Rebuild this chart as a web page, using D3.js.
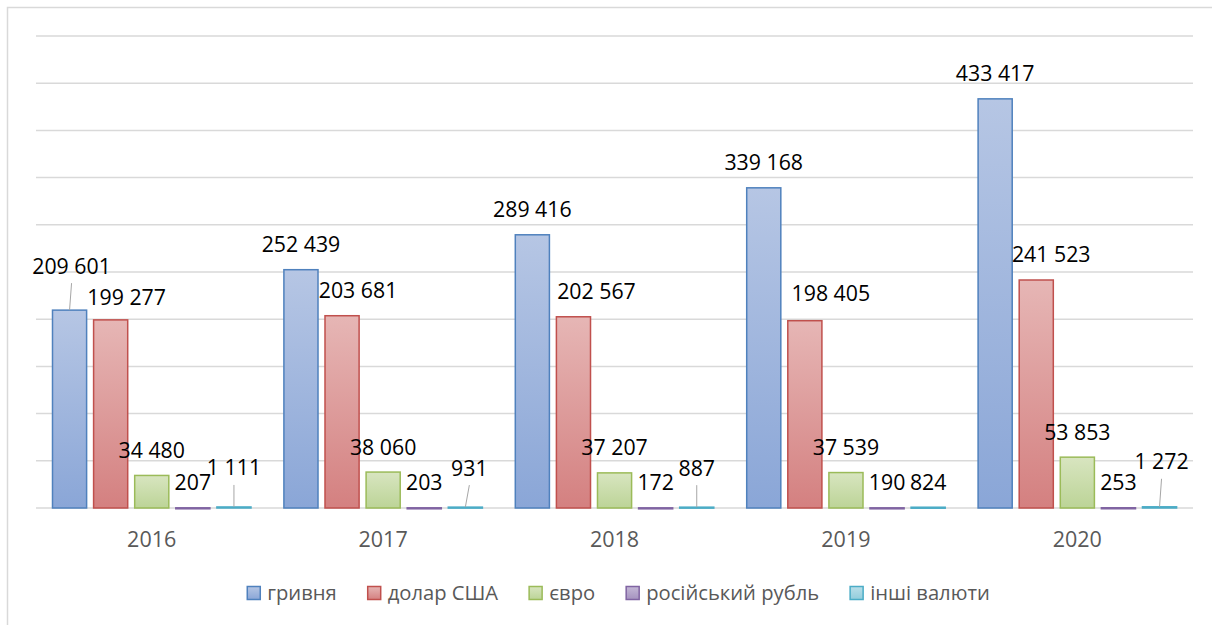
<!DOCTYPE html>
<html>
<head>
<meta charset="utf-8">
<script src="https://cdn.jsdelivr.net/npm/d3@7"></script>
<style>
  body { margin: 0; background: #fff; }
  svg { display: block; font-family: "Open Sans", "DejaVu Sans", sans-serif; }
</style>
</head>
<body>
<div id="graphic"></div>
<script>
// chart data
const years = ["2016", "2017", "2018", "2019", "2020"];
const seriesNames = ["гривня", "долар США", "євро", "російський рубль", "інші валюти"];
const hryvnia = [209601, 252439, 289416, 339168, 433417];
const usd = [199277, 203681, 202567, 198405, 241523];
const eur = [34480, 38060, 37207, 37539, 53853];
const rub = [207, 203, 172, 190, 253];
const other = [1111, 931, 887, 824, 1272];
const yTicks = [0, 50000, 100000, 150000, 200000, 250000, 300000, 350000, 400000, 450000, 500000];

// colours: stroke, gradient top, gradient bottom
const colors = [
    ["#4f81bd", "#b6c6e4", "#8aa6d7"],
    ["#c0504d", "#e6b6b5", "#d48080"],
    ["#9bbb59", "#d8e5c0", "#bcd497"],
    ["#8064a2", "#c4b8d6", "#a592bf"],
    ["#4bacc6", "#badfe9", "#92cddc"]
];

// labels that were dragged away from their default spot: [dx, dy, leader line]
const labelNudge = {
    "0|2016": [2, -19, true],
    "1|2016": [16, 3, false],
    "1|2017": [16, 0, false],
    "1|2018": [23, 0, false],
    "1|2019": [26, -2, false],
    "1|2020": [15, 0, false],
    "4|2016": [0, -14, true],
    "4|2017": [4, -14, true],
    "4|2018": [0, -14, true],
    "4|2020": [2, -20, true]
};

const allValues = [hryvnia, usd, eur, rub, other];
const data = years.map((yr, i) => ({
    year: yr,
    values: seriesNames.map((s, j) => ({ series: j, year: yr, value: allValues[j][i] }))
}));

const width = 1212, height = 625;
const plot = { left: 36, right: 1193, top: 36, bottom: 508 };

const svg = d3.select("#graphic")
    .append("svg")
    .attr("width", width)
    .attr("height", height);

// gradients
const defs = svg.append("defs");
colors.forEach((c, i) => {
    const g = defs.append("linearGradient")
        .attr("id", "grad" + i)
        .attr("x1", 0).attr("y1", 0).attr("x2", 0).attr("y2", 1);
    g.append("stop").attr("offset", "0%").attr("stop-color", c[1]);
    g.append("stop").attr("offset", "100%").attr("stop-color", c[2]);
});

// chart frame
svg.append("rect")
    .attr("x", 7.5).attr("y", 7.5)
    .attr("width", 1220).attr("height", 640)
    .attr("fill", "#fff")
    .attr("stroke", "#d9d9d9")
    .attr("stroke-width", 1.5);

const x0 = d3.scaleBand()
    .domain(years)
    .range([plot.left, plot.right])
    .padding(0);

const x1 = d3.scaleBand()
    .domain(d3.range(seriesNames.length))
    .range([16.5, 215])
    .paddingInner(0.17);

const y = d3.scaleLinear()
    .domain([0, 500000])
    .range([plot.bottom, plot.top]);

// gridlines
svg.append("g")
    .selectAll("line")
    .data(yTicks)
    .join("line")
    .attr("x1", plot.left)
    .attr("x2", plot.right)
    .attr("y1", d => y(d))
    .attr("y2", d => y(d))
    .attr("stroke", "#d9d9d9")
    .attr("stroke-width", 1.5);

// bars
const groups = svg.append("g")
    .selectAll("g")
    .data(data)
    .join("g")
    .attr("transform", d => "translate(" + x0(d.year) + ",0)");

groups.selectAll("rect")
    .data(d => d.values)
    .join("rect")
    .attr("x", d => x1(d.series))
    .attr("y", d => y(d.value))
    .attr("width", x1.bandwidth())
    .attr("height", d => Math.max(1, y(0) - y(d.value)))
    .attr("fill", d => "url(#grad" + d.series + ")")
    .attr("stroke", d => colors[d.series][0])
    .attr("stroke-width", 1.5);

// data labels
const fmt = v => d3.format(",")(v).replace(/,/g, " ");
const labels = svg.append("g");
data.forEach(d => {
    d.values.forEach(v => {
        const cx = x0(d.year) + x1(v.series) + x1.bandwidth() / 2;
        const top = y(v.value);
        const nudge = labelNudge[v.series + "|" + v.year] || [0, 0, false];
        const lx = cx + nudge[0];
        const ly = top - 25 + nudge[1];
        if (nudge[2]) {
            labels.append("line")
                .attr("x1", lx).attr("y1", ly + 17)
                .attr("x2", cx).attr("y2", top)
                .attr("stroke", "#a6a6a6")
                .attr("stroke-width", 1);
        }
        labels.append("text")
            .attr("x", lx)
            .attr("y", ly)
            .attr("dy", "0.35em")
            .attr("text-anchor", "middle")
            .attr("font-size", 21.3)
            .attr("fill", "#000")
            .text(fmt(v.value));
    });
});

// x axis
const xAxis = svg.append("g")
    .attr("transform", "translate(0," + plot.bottom + ")")
    .call(d3.axisBottom(x0).tickSize(0).tickPadding(24));
xAxis.select(".domain").remove();
xAxis.selectAll("text")
    .attr("font-family", "\"Open Sans\", sans-serif")
    .attr("font-size", 21.5)
    .attr("fill", "#595959");

// legend
const legend = svg.append("g").attr("transform", "translate(0,593)");
const items = legend.selectAll("g")
    .data(seriesNames)
    .join("g");
items.append("rect")
    .attr("x", 0).attr("y", -6.5)
    .attr("width", 13).attr("height", 13)
    .attr("fill", (d, i) => "url(#grad" + i + ")")
    .attr("stroke", (d, i) => colors[i][0])
    .attr("stroke-width", 1.5);
items.append("text")
    .attr("x", 20)
    .attr("dy", "0.35em")
    .attr("font-size", 20.2)
    .attr("fill", "#595959")
    .text(d => d);

let offsets = [], pos = 0;
items.each(function () {
    offsets.push(pos);
    pos += 20 + d3.select(this).select("text").node().getComputedTextLength() + 31;
});
const total = pos - 31;
const startX = 618.5 - total / 2;
items.attr("transform", (d, i) => "translate(" + (startX + offsets[i]) + ",0)");
</script>
</body>
</html>
